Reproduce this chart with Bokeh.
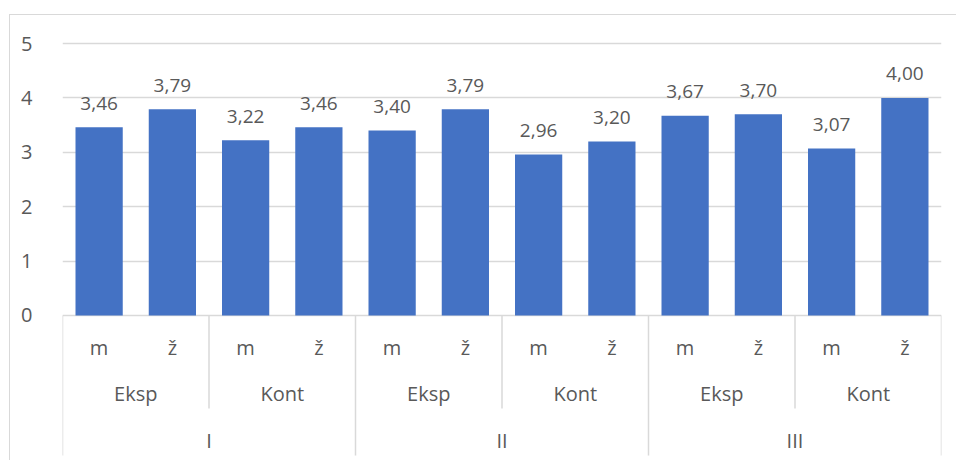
from bokeh.plotting import figure
from bokeh.models import FactorRange, Range1d, FixedTicker, ColumnDataSource
from bokeh.core.properties import value
from bokeh.embed import file_html
from bokeh.resources import INLINE

# ---- data ----
periods = ["I", "II", "III"]
groups = ["Eksp", "Kont"]
sexes = ["m", "ž"]
values = [3.46, 3.79, 3.22, 3.46, 3.40, 3.79, 2.96, 3.20, 3.67, 3.70, 3.07, 4.00]
y_ticks = [0, 1, 2, 3, 4, 5]

factors = [(pr, g, s) for pr in periods for g in groups for s in sexes]
labels = [f"{v:.2f}".replace(".", ",") for v in values]

FONT = "Open Sans"
TXT = "#595959"
GRID = "#d9d9d9"

p = figure(
    width=947, height=446,
    x_range=FactorRange(*factors, factor_padding=0, subgroup_padding=0,
                        group_padding=0, range_padding=0),
    y_range=Range1d(-2.684, 5.515),
    output_backend="svg", toolbar_location=None,
    min_border_left=52, min_border_right=16, min_border_top=0, min_border_bottom=0,
    margin=(14, 0, 0, 9),
    styles={"border-left": "1px solid #d9d9d9", "border-top": "1px solid #d9d9d9"},
)
p.outline_line_color = None
p.xaxis.visible = False
p.xgrid.visible = False

p.yaxis.ticker = FixedTicker(ticks=y_ticks)
p.ygrid.ticker = FixedTicker(ticks=y_ticks)
p.ygrid.grid_line_color = GRID
p.ygrid.grid_line_width = 1.5
p.yaxis.axis_line_color = None
p.yaxis.major_tick_line_color = None
p.yaxis.minor_tick_line_color = None
p.yaxis.major_label_standoff = 24
p.yaxis.major_label_text_font = FONT
p.yaxis.major_label_text_font_size = "20px"
p.yaxis.major_label_text_color = TXT

src = ColumnDataSource(dict(x=factors, top=values, label=labels))
p.vbar(x="x", top="top", width=0.645, source=src, fill_color="#4472C4", line_color=None)
p.text(x="x", y="top", text="label", source=src, text_align="center",
       text_baseline="alphabetic", y_offset=-24,
       text_font=value(FONT), text_font_size="19px", text_color=TXT)

# multi-level category axis drawn below zero
sex_src = ColumnDataSource(dict(x=factors, t=[f[2] for f in factors]))
p.text(x="x", y=-0.588, text="t", source=sex_src, text_align="center",
       text_baseline="alphabetic", text_font=value(FONT), text_font_size="20px", text_color=TXT)

grp_factors = [(pr, g) for pr in periods for g in groups]
grp_src = ColumnDataSource(dict(x=grp_factors, t=[g for _, g in grp_factors]))
p.text(x="x", y=-1.434, text="t", source=grp_src, text_align="center",
       text_baseline="alphabetic", text_font=value(FONT), text_font_size="20px", text_color=TXT)

per_src = ColumnDataSource(dict(x=periods, t=periods))
p.text(x="x", y=-2.297, text="t", source=per_src, text_align="center",
       text_baseline="alphabetic", text_font=value(FONT), text_font_size="20px", text_color=TXT)

# separators
n = len(factors)
long_b = [i for i in range(n + 1) if i == 0 or i == n or factors[i][0] != factors[i - 1][0]]
short_b = [i for i in range(1, n) if factors[i][0] == factors[i - 1][0] and factors[i][1] != factors[i - 1][1]]
p.segment(x0=long_b, x1=long_b, y0=0, y1=-2.574, line_color=GRID, line_width=1.5)
p.segment(x0=short_b, x1=short_b, y0=0, y1=-1.71, line_color=GRID, line_width=1.5)

open("out.html", "w").write(file_html(p, INLINE))
